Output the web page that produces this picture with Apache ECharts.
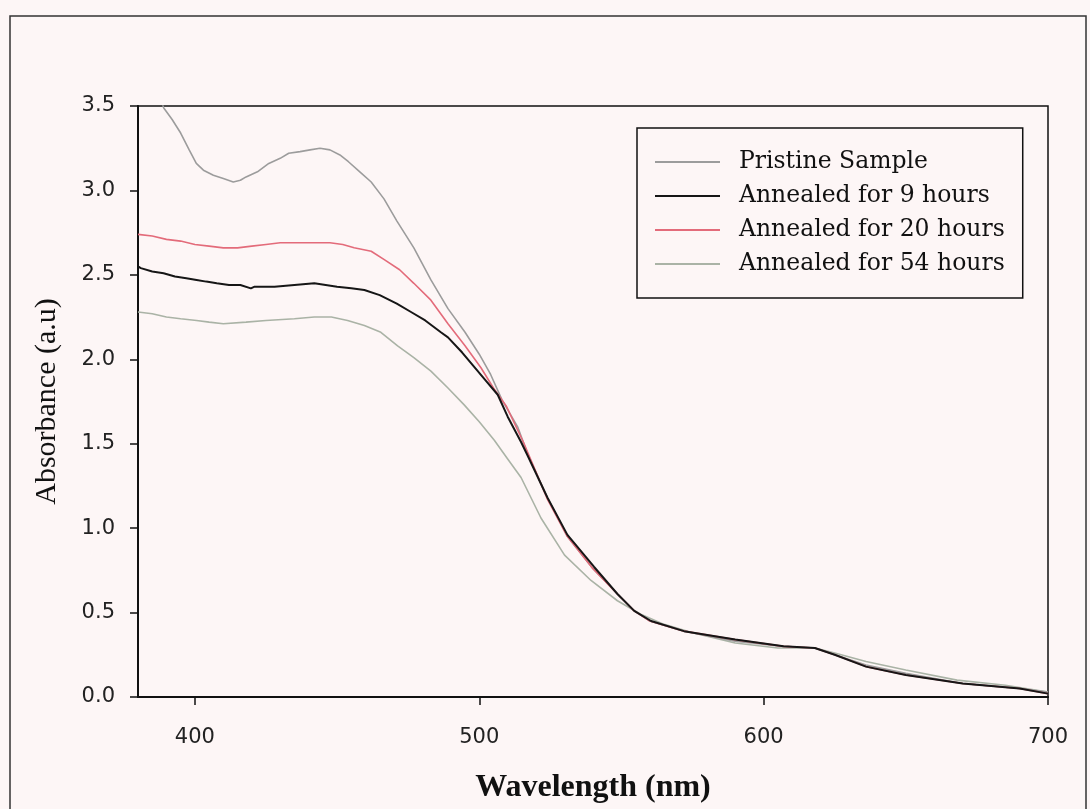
<!DOCTYPE html>
<html><head><meta charset="utf-8">
<script src="https://cdn.jsdelivr.net/npm/echarts@6/dist/echarts.min.js"></script>
<style>html,body{margin:0;padding:0;background:#fdf6f6;}#c{width:1090px;height:809px;}</style>
</head><body><div id="c"></div>
<script>
const seriesNames = ['Pristine Sample','Annealed for 9 hours','Annealed for 20 hours','Annealed for 54 hours'];
const xTicks = [400,500,600,700];
const xTickGrid = [380,400,420,440,460,480,500,520,540,560,580,600,620,640,660,680,700];
const yTicks = [0,0.5,1,1.5,2,2.5,3,3.5];

const wlPristine = [380,385,389,392,395,398,400.5,403,406.5,410,413.5,416,418,422,426,430,433,437,440.5,444,447.5,451,454,458,462,466.5,471,477,483,489,495,500,504,508,513.5,517,524,531,540,548.6,554.5,560,572,590,607,618,625,636,650,670,690,700];
const absPristine = [3.95,3.7,3.49,3.42,3.34,3.24,3.16,3.12,3.09,3.07,3.05,3.06,3.08,3.11,3.16,3.19,3.22,3.23,3.24,3.25,3.24,3.21,3.17,3.11,3.05,2.95,2.82,2.66,2.47,2.3,2.16,2.03,1.91,1.76,1.6,1.44,1.18,0.95,0.76,0.61,0.51,0.45,0.39,0.33,0.30,0.29,0.25,0.19,0.14,0.08,0.05,0.03];

const wl9h = [380,381,385,389,393,397,400.6,404,407.7,412,416,419.7,421,428,435,442,446,450,455,459.6,465,471,476,481,486.5,489,494,498,502,506.5,510,514.7,517,524,531,540.4,548.6,554.5,560.4,572,590,607,618,625,636,650,670,690,700];
const abs9h = [2.55,2.54,2.52,2.51,2.49,2.48,2.47,2.46,2.45,2.44,2.44,2.42,2.43,2.43,2.44,2.45,2.44,2.43,2.42,2.41,2.38,2.33,2.28,2.23,2.16,2.13,2.04,1.96,1.88,1.79,1.66,1.51,1.43,1.18,0.96,0.77,0.61,0.51,0.45,0.39,0.34,0.30,0.29,0.25,0.18,0.13,0.08,0.05,0.02];

const wl20h = [380,385,390,395,400,405,410,415,420,425,430,435,440,447.5,452,456,462,466.6,472,477,483,489,495,500.6,505,509.6,515.5,520,524,531,540,548.6,554.5,560,572,590,607,618,625,636,650,670,690,700];
const abs20h = [2.74,2.73,2.71,2.70,2.68,2.67,2.66,2.66,2.67,2.68,2.69,2.69,2.69,2.69,2.68,2.66,2.64,2.59,2.53,2.45,2.35,2.21,2.08,1.95,1.83,1.72,1.51,1.33,1.17,0.95,0.76,0.61,0.51,0.45,0.39,0.34,0.30,0.29,0.25,0.18,0.13,0.08,0.05,0.02];

const wl54h = [380,385,390,395,400.6,405,410,418,425,435,442,448,453.7,459.6,465.4,471.3,477,483,489,494.7,500,505.3,510,514.7,521.7,530,539.3,548.6,556.8,565,575,590,605,618,625,636,650,668,685,700];
const abs54h = [2.28,2.27,2.25,2.24,2.23,2.22,2.21,2.22,2.23,2.24,2.25,2.25,2.23,2.20,2.16,2.08,2.01,1.93,1.83,1.73,1.63,1.52,1.41,1.30,1.06,0.84,0.69,0.57,0.49,0.43,0.38,0.32,0.29,0.29,0.26,0.21,0.16,0.10,0.07,0.03];

const colors = ['#9c9c9c','#161616','#e36b7a','#aab3a6'];
const widths = [1.6,2,1.6,1.6];
const wls = [wlPristine, wl9h, wl20h, wl54h];
const abss = [absPristine, abs9h, abs20h, abs54h];

const chart = echarts.init(document.getElementById('c'));
const series = seriesNames.map((n,i)=>({
  name:n, type:'line', showSymbol:false, symbol:'none', clip:true, xAxisIndex:0,
  data: wls[i].map((x,j)=>[x, abss[i][j]]),
  lineStyle:{color:colors[i], width:widths[i]},
  itemStyle:{color:colors[i]}, z: [2,4,3,1][i]
}));
chart.setOption({
  backgroundColor:'#fdf6f6',
  animation:false,
  graphic:[{type:'rect', shape:{x:10,y:16,width:1076,height:820}, style:{fill:'none', stroke:'#333', lineWidth:1.5}}],
  grid:{left:138, right:42, top:106, bottom:109, show:true, borderColor:'#111', borderWidth:1.5, backgroundColor:'transparent'},
  xAxis:[{type:'value', position:'bottom', min:380, max:700, interval:20,
    axisLine:{lineStyle:{color:'#111', width:2}},
    axisTick:{show:false},
    splitLine:{show:false},
    axisLabel:{margin:30, customValues:xTicks, fontFamily:'DejaVu Sans', fontSize:21, color:'#222',
      formatter:v=> String(v)},
    name:'Wavelength (nm)', nameLocation:'middle', nameGap:75,
    nameTextStyle:{fontFamily:'Liberation Serif', fontWeight:'bold', fontSize:32, color:'#111'}
  },{type:'category', position:'bottom', boundaryGap:false, data:xTickGrid.map(String),
    axisLine:{show:false}, splitLine:{show:false}, axisLabel:{show:false},
    axisTick:{show:true, length:8, interval:(i,v)=> xTicks.includes(Number(v)), lineStyle:{color:'#111', width:1.5}}
  }],
  yAxis:{type:'value', min:0, max:3.5, interval:0.5,
    axisLine:{lineStyle:{color:'#111', width:2}},
    axisTick:{length:8, lineStyle:{color:'#111', width:1.5}},
    splitLine:{show:false},
    axisLabel:{margin:23, fontFamily:'DejaVu Sans', fontSize:21, color:'#222',
      formatter:v=> yTicks.includes(v)? v.toFixed(1):''},
    name:'Absorbance (a.u)', nameLocation:'middle', nameGap:76,
    nameTextStyle:{fontFamily:'Liberation Serif', fontSize:30, color:'#111'}
  },
  legend:{orient:'vertical', left:637, top:128, icon:'rect', itemWidth:65, itemHeight:2, itemGap:10,
    padding:[22,18,22,18], borderColor:'#111', borderWidth:1.5, backgroundColor:'#fdf6f6',
    textStyle:{fontFamily:'DejaVu Serif', fontSize:23.5, color:'#111', lineHeight:24, padding:[0,0,0,14]},
    data:seriesNames},
  series
});
</script></body></html>
